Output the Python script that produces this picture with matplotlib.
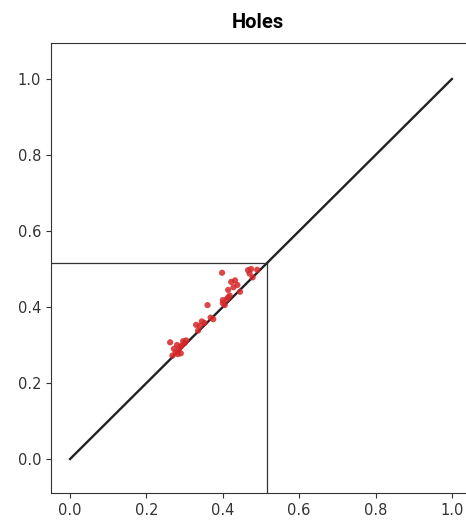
import matplotlib
matplotlib.use('Agg')

import matplotlib.pyplot as plt

# predicted vs. observed hole fractions
x_pts = [0.262, 0.268, 0.272, 0.276, 0.280, 0.284, 0.288, 0.292, 0.296, 0.300,
         0.304, 0.330, 0.335, 0.340, 0.345, 0.352, 0.360, 0.368, 0.375, 0.398,
         0.400, 0.405, 0.410, 0.414, 0.418, 0.422, 0.428, 0.432, 0.438, 0.445,
         0.466, 0.470, 0.474, 0.478, 0.490, 0.400, 0.414, 0.290, 0.282]
y_pts = [0.307, 0.272, 0.290, 0.280, 0.300, 0.285, 0.295, 0.298, 0.310, 0.305,
         0.312, 0.353, 0.338, 0.350, 0.362, 0.358, 0.405, 0.372, 0.368, 0.490,
         0.418, 0.405, 0.420, 0.445, 0.430, 0.466, 0.452, 0.470, 0.458, 0.440,
         0.497, 0.488, 0.500, 0.478, 0.498, 0.410, 0.425, 0.278, 0.276]

cut = 0.515

fig = plt.figure(figsize=(4.66, 5.21), dpi=100)
ax = fig.add_axes([51 / 466, 28 / 521, 420 / 466, 450 / 521])

ax.plot([0, 1], [0, 1], color='#222222', lw=1.7)
ax.scatter(x_pts, y_pts, s=20, color='#d62728', alpha=0.85, edgecolors='none', zorder=3)

# guide lines to the cut-off point
ax.plot([-0.05, cut], [cut, cut], color='#333333', lw=0.9)
ax.plot([cut, cut], [-0.0895, cut], color='#333333', lw=0.9)

ax.set_xlim(-0.05, 1.05)
ax.set_ylim(-0.0895, 1.0947)
ax.set_xticks([0.0, 0.2, 0.4, 0.6, 0.8, 1.0])
ax.set_yticks([0.0, 0.2, 0.4, 0.6, 0.8, 1.0])
ax.tick_params(colors='#333333', labelcolor='#333333', labelsize=10.5)
for s in ax.spines.values():
    s.set_color('#333333')

fig.text(258 / 466, 1 - 22 / 521, 'Holes', ha='center', va='center',
         fontsize=14.5, fontweight='bold', family='Roboto')

fig.savefig('out.png', dpi=100)
